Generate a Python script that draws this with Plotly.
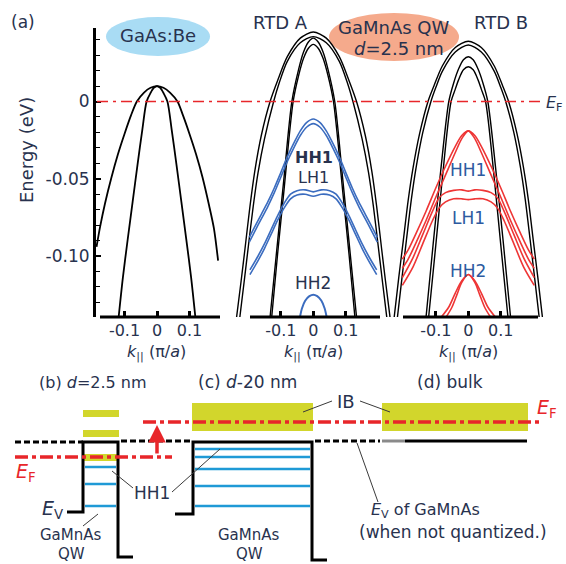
import plotly.graph_objects as go

W, H = 566, 564
FONT = "DejaVu Sans, Verdana, sans-serif"
NAVY = "#28324e"
BLUE = "#3b6cbf"
RED = "#ee3535"
LINE_RED = "#e8262a"
WELL_BLUE = "#1f9ad6"
IB_YELLOW = "#d2d62c"


def px(x):
    return x / W


def py(y):
    return 1 - y / H


def mirror(k, e):
    """Bands are symmetric in k||: build the full curve from its k >= 0 half."""
    return [-v for v in k[::-1]] + k[1:], e[::-1] + e[1:]


# ---------------- (a) valence-band dispersions (k|| in pi/a, E in eV) ----------------
# GaAs:Be
gaas_hh_k = [-0.186, -0.175, -0.16, -0.14, -0.12, -0.10, -0.08, -0.062, -0.04, -0.02, 0.0,
             0.02, 0.04, 0.063, 0.08, 0.10, 0.12, 0.14, 0.16, 0.175, 0.188]
gaas_hh_e = [-0.094, -0.081, -0.066, -0.049, -0.034, -0.021, -0.009, 0.000, 0.0058, 0.0089, 0.010,
             0.0089, 0.0058, 0.000, -0.009, -0.021, -0.034, -0.049, -0.067, -0.082, -0.103]
gaas_lh_k = [0.0, 0.01, 0.02, 0.032, 0.045, 0.06, 0.075, 0.09, 0.105, 0.118]
gaas_lh_e = [0.010, 0.0088, 0.0055, 0.000, -0.018, -0.041, -0.065, -0.089, -0.114, -0.1395]

# RTD A : GaMnAs QW bands (black: barrier / emitter bands)
a_w1_k = [0, 0.04, 0.08, 0.11, 0.133, 0.16, 0.18, 0.195, 0.21, 0.222, 0.236]
a_w1_e = [0.045, 0.041, 0.029, 0.0135, 0.0, -0.022, -0.045, -0.068, -0.095, -0.116, -0.1395]
a_w2_k = [0, 0.04, 0.08, 0.105, 0.122, 0.15, 0.17, 0.185, 0.2, 0.213, 0.226]
a_w2_e = [0.042, 0.038, 0.026, 0.012, 0.0, -0.024, -0.046, -0.068, -0.094, -0.117, -0.1395]
a_n1_k = [0, 0.015, 0.03, 0.045, 0.066, 0.09, 0.11, 0.133]
a_n1_e = [0.041, 0.0385, 0.032, 0.021, 0.0, -0.049, -0.091, -0.1395]
a_n2_k = [0, 0.015, 0.03, 0.045, 0.062, 0.09, 0.11, 0.128]
a_n2_e = [0.037, 0.0345, 0.028, 0.017, 0.0, -0.057, -0.099, -0.1395]
# RTD A : quantized subbands
a_hh1_k = [0, 0.02, 0.04, 0.06, 0.082, 0.1, 0.12, 0.14, 0.16, 0.18, 0.197]
a_hh1a_e = [-0.0113, -0.0135, -0.019, -0.027, -0.0368, -0.046, -0.056, -0.065, -0.073, -0.081, -0.088]
a_hh1b_e = [-0.0143, -0.0165, -0.022, -0.030, -0.0398, -0.049, -0.059, -0.068, -0.076, -0.084, -0.091]
a_lh1_k = [0, 0.025, 0.05, 0.07, 0.09, 0.11, 0.13, 0.15, 0.17, 0.195]
a_lh1a_e = [-0.0585, -0.0572, -0.0577, -0.060, -0.066, -0.074, -0.083, -0.092, -0.100, -0.109]
a_lh1b_e = [-0.0613, -0.0600, -0.0605, -0.063, -0.069, -0.077, -0.086, -0.095, -0.103, -0.112]
a_hh2_k = [0, 0.012, 0.025, 0.035, 0.041]
a_hh2_e = [-0.125, -0.126, -0.129, -0.134, -0.1395]

# RTD B
b_w1_k = [0, 0.04, 0.08, 0.105, 0.124, 0.15, 0.17, 0.185, 0.2, 0.214, 0.228]
b_w1_e = [0.039, 0.035, 0.023, 0.0105, 0.0, -0.021, -0.043, -0.064, -0.09, -0.114, -0.1395]
b_w2_k = [0, 0.04, 0.08, 0.1, 0.115, 0.14, 0.16, 0.175, 0.19, 0.204, 0.218]
b_w2_e = [0.0366, 0.032, 0.0195, 0.009, 0.0, -0.02, -0.042, -0.063, -0.089, -0.114, -0.1395]
b_n1_k = [0, 0.015, 0.03, 0.045, 0.06, 0.085, 0.108, 0.13]
b_n1_e = [0.029, 0.027, 0.021, 0.012, 0.0, -0.045, -0.092, -0.1395]
b_n2_k = [0, 0.015, 0.03, 0.04, 0.053, 0.08, 0.1, 0.122]
b_n2_e = [0.0225, 0.0205, 0.014, 0.008, 0.0, -0.05, -0.093, -0.1395]
b_hh1_k = [0, 0.02, 0.04, 0.073, 0.1, 0.13, 0.16, 0.185, 0.203]
b_hh1a_e = [-0.019, -0.022, -0.029, -0.0432, -0.056, -0.071, -0.085, -0.096, -0.102]
b_hh1b_e = [-0.019, -0.024, -0.033, -0.049, -0.062, -0.077, -0.091, -0.102, -0.108]
b_lh1_k = [0, 0.02, 0.045, 0.07, 0.09, 0.11, 0.14, 0.17, 0.203]
b_lh1a_e = [-0.058, -0.0572, -0.0575, -0.059, -0.0625, -0.071, -0.086, -0.101, -0.114]
b_lh1b_e = [-0.0635, -0.063, -0.063, -0.065, -0.069, -0.077, -0.092, -0.107, -0.119]
b_hh2a_k = [0, 0.02, 0.04, 0.06, 0.083]
b_hh2a_e = [-0.112, -0.116, -0.124, -0.133, -0.1395]
b_hh2b_k = [0, 0.02, 0.035, 0.05, 0.068]
b_hh2b_e = [-0.112, -0.117, -0.125, -0.133, -0.1395]

k_ticks = [-0.1, 0, 0.1]
k_tick_text = ["-0.1", "0", "0.1"]
e_ticks = [0, -0.05, -0.10]
e_tick_text = ["0", "-0.05", "-0.10"]

# energy axis: 1545 px per eV, E = 0 at y = 101.5 px, axis from y = 28 to 317 px
E_TOP = (101.5 - 28) / 1545
E_BOT = (101.5 - 317) / 1545
K_SCALE = 325.0  # px per unit of k||

fig = go.Figure()


def band(xa, k, e, color, width=1.6, sym=True):
    if sym:
        k, e = mirror(k, e)
    fig.add_trace(go.Scatter(x=k, y=e, xaxis=xa, yaxis="y", mode="lines",
                             line=dict(color=color, width=width, shape="spline", smoothing=0.8),
                             hoverinfo="skip", showlegend=False))


band("x", gaas_hh_k, gaas_hh_e, "black", 1.8, sym=False)
band("x", gaas_lh_k, gaas_lh_e, "black", 1.8)

for k, e in [(a_w1_k, a_w1_e), (a_w2_k, a_w2_e), (a_n1_k, a_n1_e), (a_n2_k, a_n2_e)]:
    band("x2", k, e, "black", 1.4)
band("x2", a_hh1_k, a_hh1a_e, BLUE)
band("x2", a_hh1_k, a_hh1b_e, BLUE)
band("x2", a_lh1_k, a_lh1a_e, BLUE)
band("x2", a_lh1_k, a_lh1b_e, BLUE)
band("x2", a_hh2_k, a_hh2_e, BLUE, 2.0)

for k, e in [(b_w1_k, b_w1_e), (b_w2_k, b_w2_e), (b_n1_k, b_n1_e), (b_n2_k, b_n2_e)]:
    band("x3", k, e, "black", 1.4)
band("x3", b_hh1_k, b_hh1a_e, RED)
band("x3", b_hh1_k, b_hh1b_e, RED)
band("x3", b_lh1_k, b_lh1a_e, RED)
band("x3", b_lh1_k, b_lh1b_e, RED)
band("x3", b_hh2a_k, b_hh2a_e, RED)
band("x3", b_hh2b_k, b_hh2b_e, RED)

# panel geometry: (left px, right px, k=0 px, axis-line start px, axis-line end px)
panels = {"x": (96, 222, 157.0, 100, 220),
          "x2": (232, 393, 313.3, 250, 380),
          "x3": (393, 548, 468.3, 403, 538)}

xaxis_common = dict(anchor="y", showgrid=False, zeroline=False, showline=False,
                    ticks="inside", ticklen=6, tickwidth=2.5, tickcolor="black",
                    tickvals=k_ticks, ticktext=k_tick_text, ticklabelstandoff=2,
                    tickfont=dict(family=FONT, size=16, color=NAVY))
layout_axes = {}
shapes = []
annotations = []
for name, (l, r, c, a0, a1) in panels.items():
    key = "xaxis" if name == "x" else "xaxis" + name[1:]
    layout_axes[key] = dict(domain=[px(l), px(r)],
                            range=[(l - c) / K_SCALE, (r - c) / K_SCALE], **xaxis_common)
    # bottom axis line of each dispersion panel
    shapes.append(dict(type="line", xref=name, yref="paper",
                       x0=(a0 - c) / K_SCALE, x1=(a1 - c) / K_SCALE, y0=py(317), y1=py(317),
                       line=dict(color="black", width=3)))
    annotations.append(dict(xref="paper", yref="paper", x=px(c), y=py(352),
                            text="<i>k</i><sub>||</sub> (π/<i>a</i>)", showarrow=False,
                            font=dict(family=FONT, size=16, color=NAVY),
                            borderpad=0, borderwidth=0,
                            xanchor="center", yanchor="middle"))

layout_axes["yaxis"] = dict(domain=[py(317), py(28)], range=[E_BOT, E_TOP],
                            showgrid=False, zeroline=False, showline=True,
                            linecolor="black", linewidth=3,
                            ticks="inside", ticklen=5, tickwidth=1.5, tickcolor="black",
                            tickvals=e_ticks, ticktext=e_tick_text,
                            tickfont=dict(family=FONT, size=17, color=NAVY),
                            minor=dict(dtick=0.01, tick0=0, ticks="inside", ticklen=4,
                                       tickwidth=1.2, tickcolor="black"))

# Fermi level in (a)
shapes.append(dict(type="line", xref="paper", yref="y", x0=px(97), x1=px(541), y0=0, y1=0,
                   line=dict(color=LINE_RED, width=1.3, dash="11px,5px,3px,5px")))

# label ellipses
shapes.append(dict(type="circle", xref="paper", yref="paper", layer="below",
                   x0=px(106), x1=px(210), y0=py(56), y1=py(17),
                   fillcolor="#a9dcf4", line=dict(width=0)))
shapes.append(dict(type="circle", xref="paper", yref="paper", layer="below",
                   x0=px(329), x1=px(459), y0=py(61), y1=py(13),
                   fillcolor="#f5aa8c", line=dict(width=0)))


def text(x, y, s, size=17, color=NAVY, anchor="center", angle=0):
    annotations.append(dict(xref="paper", yref="paper", x=px(x), y=py(y), text=s,
                            showarrow=False, textangle=angle, borderpad=0, borderwidth=0,
                            font=dict(family=FONT, size=size, color=color),
                            xanchor=anchor, yanchor="middle"))


text(23, 22, "(a)", 17)
text(158, 35, "GaAs:Be", 18)
text(280, 22, "RTD A", 18)
text(501, 22, "RTD B", 18)
text(393, 28, "GaMnAs QW", 18)
text(399, 48, "<i>d</i>=2.5 nm", 18)
text(26, 150, "Energy (eV)", 18, angle=-90)
text(546, 103, "<i>E</i><sub>F</sub>", 16, anchor="left")
text(314, 157, "<b>HH1</b>", 16)
text(314, 178, "LH1", 16)
text(313, 283, "HH2", 17)
text(468, 170, "HH1", 17, "#2c5aa0")
text(468, 218, "LH1", 17, "#2c5aa0")
text(468, 271, "HH2", 17, "#2c5aa0")

# ---------------- (b)-(d) band-edge schematics ----------------
def seg(x0, y0, x1, y1, color="black", width=3, dash=None):
    ln = dict(color=color, width=width)
    if dash:
        ln["dash"] = dash
    shapes.append(dict(type="line", xref="paper", yref="paper",
                       x0=px(x0), y0=py(y0), x1=px(x1), y1=py(y1), line=ln))


def box(x0, y0, x1, y1, color=IB_YELLOW):
    shapes.append(dict(type="rect", xref="paper", yref="paper", layer="below",
                       x0=px(x0), y0=py(y1), x1=px(x1), y1=py(y0),
                       fillcolor=color, line=dict(width=0)))


def path(points, width=3):
    d = "M " + " L ".join(f"{px(x)},{py(y)}" for x, y in points)
    shapes.append(dict(type="path", xref="paper", yref="paper", path=d,
                       line=dict(color="black", width=width)))


# impurity band
box(83, 410, 119, 417)
box(83, 430, 119, 437)
box(83, 454, 119, 461)
box(192, 403, 313, 431)
box(382, 403, 528, 431)

# valence band edge of GaMnAs when not quantized
BLACK_DASH = "6px,3px"
seg(15, 442, 83, 442, dash=BLACK_DASH)
seg(121, 441, 190, 441, dash=BLACK_DASH)
seg(315, 441, 380, 441, dash=BLACK_DASH)
seg(382, 441, 405, 441, color="#8a8a8a")
seg(405, 441, 527, 441)

# quantum wells
path([(67, 512), (83, 512), (83, 442), (118, 442), (118, 557), (133, 557)])
path([(175, 514), (193, 514), (193, 442), (312, 442), (312, 560), (327, 560)])

# quantized HH levels
for y in (467, 484, 506):
    seg(85, y, 116, y, color=WELL_BLUE, width=2.5)
for y in (449, 457, 469, 486, 506):
    seg(195, y, 310, y, color=WELL_BLUE, width=2.5)

# Fermi levels
RED_DASH = "13px,4px,4px,4px"
seg(15, 457, 172, 457, color=LINE_RED, width=3.5, dash=RED_DASH)
seg(143, 422, 543, 422, color=LINE_RED, width=3.5, dash=RED_DASH)
annotations.append(dict(xref="paper", yref="paper", x=px(157), y=py(425), ax=0, ay=30,
                        text="", showarrow=True, arrowhead=2, arrowsize=1,
                        arrowwidth=3.5, arrowcolor=LINE_RED))

# leader lines
LEAD = "#3a3a3a"
seg(133, 488, 112, 471, color=LEAD, width=1)
seg(172, 492, 220, 449, color=LEAD, width=1)
seg(83, 526, 98, 514, color=LEAD, width=1)
seg(332, 401, 303, 412, color=LEAD, width=1)
seg(360, 401, 390, 412, color=LEAD, width=1)
seg(357, 443, 378, 502, color=LEAD, width=1)

text(93, 382, "(b) <i>d</i>=2.5 nm", 16)
text(247, 382, "(c) <i>d</i>-20 nm", 17)
text(450, 382, "(d) bulk", 17)
text(26, 472, "<i>E</i><sub>F</sub>", 19, LINE_RED)
text(547, 408, "<i>E</i><sub>F</sub>", 19, LINE_RED)
text(52, 509, "<i>E</i><sub>V</sub>", 19)
text(152, 493, "HH1", 17)
text(71, 535, "GaMnAs", 15)
text(71, 554, "QW", 15)
text(249, 535, "GaMnAs", 15)
text(249, 554, "QW", 15)
text(346, 401, "IB", 18)
text(425, 510, "<i>E</i><sub>V</sub> of GaMnAs", 16)
text(453, 532, "(when not quantized.)", 17)

fig.update_layout(width=W, height=H, margin=dict(l=0, r=0, t=0, b=0),
                  paper_bgcolor="white", plot_bgcolor="rgba(0,0,0,0)",
                  shapes=shapes, annotations=annotations, **layout_axes)
fig.write_html("out.html")
